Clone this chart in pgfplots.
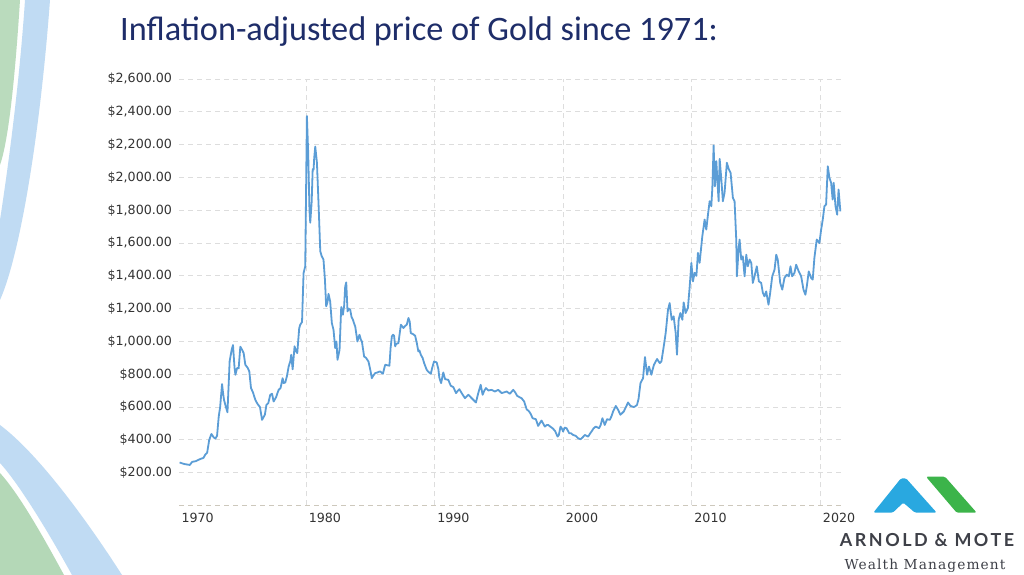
\documentclass[border=0pt]{standalone}
\usepackage{pgfplots}
\pgfplotsset{compat=1.18}
\usepackage{fontspec}
\setmainfont{DejaVu Sans}
\newfontfamily\titlefont{Carlito}
\newfontfamily\logofont[LetterSpace=14]{Lato}
\newfontfamily\tagfont[LetterSpace=8]{DejaVu Serif}

\definecolor{goldline}{RGB}{91,157,214}
\definecolor{gridgray}{RGB}{221,221,221}
\definecolor{basegray}{RGB}{205,200,188}
\definecolor{labelgray}{RGB}{51,51,51}
\definecolor{titlenavy}{RGB}{30,45,105}
\definecolor{logoblue}{RGB}{41,168,224}
\definecolor{logogreen}{RGB}{60,180,74}
\definecolor{logotext}{RGB}{62,64,72}
\definecolor{swblue}{RGB}{150,195,235}
\definecolor{swgreen}{RGB}{130,190,135}

\newcommand\ticks{\fontsize{12.7}{14}\selectfont}

\begin{document}
\begin{tikzpicture}[x=1bp,y=1bp]
\fill[white] (0,0) rectangle (1024,575);
\useasboundingbox (0,0) rectangle (1024,575);

% left swooshes
\fill[swgreen,opacity=0.55] (0,575) -- (20,575) .. controls (14,480) and (7,430) .. (0,410) -- cycle;
\fill[swblue,opacity=0.6] (25,575) -- (50,575) .. controls (40,440) and (20,320) .. (0,275)
  -- (0,355) .. controls (10,420) and (20,500) .. cycle;
\fill[swblue,opacity=0.6] (0,150) .. controls (40,120) and (90,50) .. (122,0) -- (72,0)
  .. controls (50,40) and (20,90) .. (0,112) -- cycle;
\fill[swgreen,opacity=0.6] (0,102) .. controls (20,80) and (45,35) .. (64,0) -- (0,0) -- cycle;

% title
\node[anchor=base west, inner sep=0pt, text=titlenavy, font=\titlefont\fontsize{34.4}{40}\selectfont]
  at (120,534) {Inflation-adjusted price of Gold since 1971:};

\begin{axis}[
  at={(179bp,69.5bp)}, anchor=south west,
  scale only axis, width=662bp, height=426.5bp,
  xmin=1970.1, xmax=2021.6, ymin=0, ymax=2600,
  axis line style={draw=none},
  major tick length=0pt,
  xtick={1980,1990,2000,2010,2020},
  xticklabels={1980,1990,2000,2010,2020},
  extra x ticks={1970.1}, extra x tick labels={1970},
  extra x tick style={grid=none},
  ytick={200,400,...,2600},
  yticklabels={\$200.00,\$400.00,\$600.00,\$800.00,\$1{,}000.00,\$1{,}200.00,\$1{,}400.00,
    \$1{,}600.00,\$1{,}800.00,\$2{,}000.00,\$2{,}200.00,\$2{,}400.00,\$2{,}600.00},
  grid=major,
  major grid style={draw=gridgray, dash pattern=on 5bp off 4bp, line width=0.9bp},
  ticklabel style={font=\ticks, text=labelgray},
  xticklabel style={anchor=north west, xshift=-1bp, yshift=-4bp},
  yticklabel style={xshift=-3.5bp},
]
\draw[basegray, dash pattern=on 5bp off 4bp, line width=0.9bp] (axis cs:1970.1,0) -- (axis cs:2021.6,0);
\addplot[goldline, line width=1.8bp, line join=round] table {
1970.15 262
1970.5 253
1970.94 247
1971.12 266
1971.4 270
1971.77 284
1972.0 290
1972.16 312
1972.29 322
1972.45 400
1972.62 436
1972.8 415
1972.93 408
1973.06 425
1973.19 542
1973.3 600
1973.45 740
1973.52 690
1973.6 644
1973.75 600
1973.87 568
1974.04 880
1974.2 950
1974.3 978
1974.42 840
1974.49 797
1974.62 838
1974.74 836
1974.87 968
1975.0 950
1975.13 929
1975.26 858
1975.45 838
1975.57 817
1975.7 716
1975.85 690
1976.04 644
1976.2 620
1976.4 600
1976.56 522
1976.65 535
1976.78 553
1976.9 613
1977.05 625
1977.2 675
1977.34 681
1977.46 634
1977.65 660
1977.85 705
1978.0 716
1978.16 776
1978.24 746
1978.37 750
1978.5 790
1978.63 847
1978.76 880
1978.83 919
1978.94 830
1979.09 970
1979.2 940
1979.3 929
1979.45 1080
1979.53 1102
1979.67 1118
1979.79 1417
1979.92 1458
1980.05 2374
1980.15 2150
1980.25 1800
1980.31 1724
1980.42 1850
1980.5 2050
1980.57 2048
1980.62 2120
1980.7 2188
1980.83 2090
1980.95 1850
1981.09 1550
1981.2 1520
1981.34 1499
1981.45 1380
1981.55 1214
1981.65 1240
1981.73 1290
1981.86 1244
1981.99 1112
1982.12 1071
1982.25 960
1982.35 1000
1982.43 888
1982.59 949
1982.72 1210
1982.85 1163
1982.95 1220
1983.03 1336
1983.11 1360
1983.21 1183
1983.3 1200
1983.42 1193
1983.52 1150
1983.63 1132
1983.72 1110
1983.81 1091
1983.98 1000
1984.14 1041
1984.25 1010
1984.33 1000
1984.5 908
1984.65 900
1984.84 878
1985.0 820
1985.1 776
1985.2 790
1985.36 807
1985.5 810
1985.65 815
1985.75 817
1985.96 803
1986.14 858
1986.3 855
1986.47 852
1986.56 960
1986.66 1031
1986.75 1041
1986.83 1035
1986.92 970
1986.99 985
1987.17 990
1987.36 1102
1987.56 1082
1987.7 1095
1987.82 1102
1987.95 1143
1988.05 1120
1988.13 1051
1988.3 1045
1988.47 1035
1988.6 990
1988.72 939
1988.8 945
1988.91 919
1989.05 900
1989.17 868
1989.37 827
1989.5 815
1989.69 803
1989.8 840
1989.94 878
1990.15 872
1990.28 830
1990.35 780
1990.49 746
1990.66 811
1990.8 770
1991.05 766
1991.24 730
1991.44 722
1991.65 685
1991.8 700
1991.91 709
1992.09 685
1992.35 654
1992.61 675
1992.87 654
1993.05 640
1993.2 628
1993.38 685
1993.57 736
1993.72 675
1993.85 700
1993.98 716
1994.16 701
1994.42 705
1994.68 695
1994.94 705
1995.2 685
1995.4 690
1995.59 695
1995.84 681
1996.1 705
1996.25 690
1996.41 668
1996.6 660
1996.75 654
1996.95 634
1997.14 587
1997.34 573
1997.45 560
1997.61 532
1997.86 526
1998.04 485
1998.3 518
1998.56 481
1998.7 490
1998.82 491
1999.0 480
1999.16 471
1999.35 455
1999.55 420
1999.65 430
1999.78 481
1999.88 470
1999.98 451
2000.1 475
2000.25 471
2000.45 441
2000.6 440
2000.76 430
2000.95 425
2001.15 410
2001.34 404
2001.5 415
2001.67 430
2001.93 420
2002.05 435
2002.19 451
2002.35 470
2002.52 481
2002.78 471
2002.9 490
2003.04 532
2003.22 491
2003.4 526
2003.61 522
2003.75 545
2003.87 573
2004.08 607
2004.26 583
2004.44 553
2004.7 573
2004.91 607
2005.03 628
2005.22 607
2005.48 600
2005.6 605
2005.73 613
2005.85 650
2006.0 746
2006.2 776
2006.35 905
2006.45 840
2006.51 797
2006.66 847
2006.85 797
2006.95 830
2007.05 858
2007.29 893
2007.5 868
2007.63 878
2007.81 970
2007.96 1051
2008.14 1193
2008.27 1234
2008.35 1180
2008.43 1132
2008.58 1153
2008.74 1051
2008.84 919
2008.97 1132
2009.1 1173
2009.26 1132
2009.36 1238
2009.51 1173
2009.69 1204
2009.83 1336
2009.96 1479
2010.08 1366
2010.21 1418
2010.35 1400
2010.47 1540
2010.6 1479
2010.81 1641
2010.99 1743
2011.12 1682
2011.25 1773
2011.38 1855
2011.51 1824
2011.59 1936
2011.69 2195
2011.79 1946
2011.9 2099
2012.0 1957
2012.08 1855
2012.16 2113
2012.29 1987
2012.41 1855
2012.54 1906
2012.72 2089
2012.88 2048
2013.01 2028
2013.19 1875
2013.32 1855
2013.45 1621
2013.5 1397
2013.63 1560
2013.71 1621
2013.84 1499
2013.96 1519
2014.1 1397
2014.23 1529
2014.35 1458
2014.49 1499
2014.62 1479
2014.74 1357
2014.87 1397
2015.05 1458
2015.21 1366
2015.39 1357
2015.52 1296
2015.65 1275
2015.78 1305
2015.96 1224
2016.09 1296
2016.25 1397
2016.43 1438
2016.56 1529
2016.68 1499
2016.87 1357
2017.03 1316
2017.2 1387
2017.38 1407
2017.54 1397
2017.67 1458
2017.8 1397
2017.98 1418
2018.11 1468
2018.31 1427
2018.5 1397
2018.68 1316
2018.83 1285
2018.94 1336
2019.09 1427
2019.28 1387
2019.4 1377
2019.53 1509
2019.71 1621
2019.92 1600
2020.05 1680
2020.18 1743
2020.31 1824
2020.44 1835
2020.57 2068
2020.7 1997
2020.83 1967
2020.95 1865
2021.03 1967
2021.17 1824
2021.3 1773
2021.41 1926
2021.55 1793
};
\end{axis}

% logo
\fill[logoblue, rounded corners=1.5bp] (873.3,62.3) -- (901,96.7) -- (906,96.7) -- (936.7,62.3)
  -- (915,62.3) -- (903.3,72.3) -- (892.7,62.3) -- cycle;
\fill[logogreen, rounded corners=1.5bp] (926,98.3) -- (945,98.3) -- (976.7,62.3) -- (956.7,62.3) -- cycle;
\node[anchor=base, inner sep=0pt, text=logotext, font=\logofont\bfseries\fontsize{18}{20}\selectfont]
  at (927,28) {ARNOLD \& MOTE};
\node[anchor=base, inner sep=0pt, text=logotext, font=\tagfont\fontsize{13.8}{16}\selectfont]
  at (925,5) {Wealth Management};
\end{tikzpicture}
\end{document}
